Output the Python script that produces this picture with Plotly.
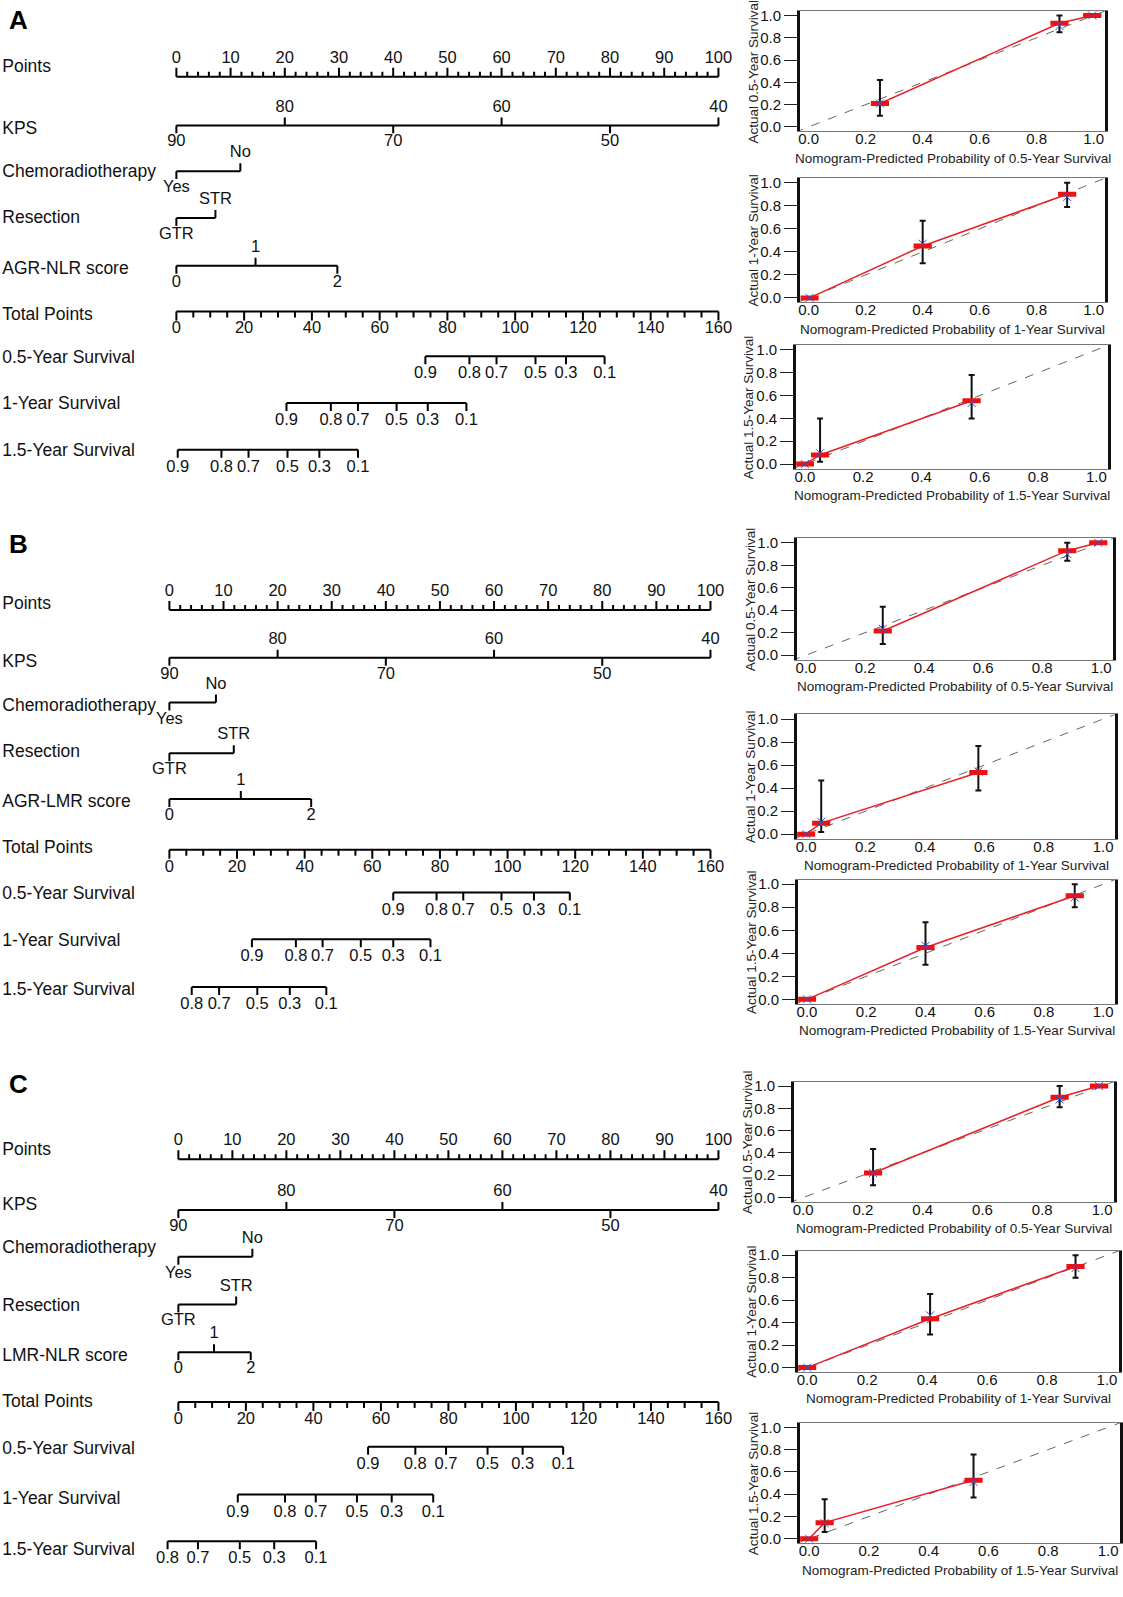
import plotly.graph_objects as go

W, H = 1123, 1597
FONT = "Liberation Sans, Arial, Helvetica, sans-serif"

# ---------------- Nomogram data ----------------
POINTS_LABELS = list(range(0, 101, 10))
KPS_VALUES = [90, 80, 70, 60, 50, 40]
KPS_POINTS = [0, 20, 40, 60, 80, 100]
TOTAL_LABELS = list(range(0, 161, 20))
TOTAL_MAX = 160
CHEMO_LEVELS = ["Yes", "No"]
RESECTION_LEVELS = ["GTR", "STR"]
SCORE_LEVELS = ["0", "1", "2"]
SURV_ROWS = ["0.5-Year Survival", "1-Year Survival", "1.5-Year Survival"]

A_SCORE_NAME = "AGR-NLR score"
A_CHEMO_PTS = [0, 11.8]
A_RESECTION_PTS = [0, 7.2]
A_SCORE_PTS = [0, 14.6, 29.7]
A_SURV_PROBS = [["0.9", "0.8", "0.7", "0.5", "0.3", "0.1"],
                ["0.9", "0.8", "0.7", "0.5", "0.3", "0.1"],
                ["0.9", "0.8", "0.7", "0.5", "0.3", "0.1"]]
A_SURV_TOTALS = [[73.5, 86.5, 94.5, 106.0, 115.0, 126.4],
                 [32.5, 45.6, 53.6, 65.0, 74.2, 85.6],
                 [0.4, 13.3, 21.3, 32.8, 42.2, 53.6]]

B_SCORE_NAME = "AGR-LMR score"
B_CHEMO_PTS = [0, 8.6]
B_RESECTION_PTS = [0, 11.9]
B_SCORE_PTS = [0, 13.2, 26.2]
B_SURV_PROBS = [["0.9", "0.8", "0.7", "0.5", "0.3", "0.1"],
                ["0.9", "0.8", "0.7", "0.5", "0.3", "0.1"],
                ["0.8", "0.7", "0.5", "0.3", "0.1"]]
B_SURV_TOTALS = [[66.2, 79.0, 86.9, 98.2, 107.8, 118.4],
                 [24.4, 37.4, 45.3, 56.6, 66.2, 77.2],
                 [6.6, 14.7, 26.0, 35.6, 46.4]]

C_SCORE_NAME = "LMR-NLR score"
C_CHEMO_PTS = [0, 13.7]
C_RESECTION_PTS = [0, 10.7]
C_SCORE_PTS = [0, 6.6, 13.4]
C_SURV_PROBS = [["0.9", "0.8", "0.7", "0.5", "0.3", "0.1"],
                ["0.9", "0.8", "0.7", "0.5", "0.3", "0.1"],
                ["0.8", "0.7", "0.5", "0.3", "0.1"]]
C_SURV_TOTALS = [[56.2, 70.2, 79.3, 91.6, 102.0, 114.0],
                 [17.6, 31.6, 40.7, 52.9, 63.2, 75.5],
                 [-3.2, 5.8, 18.2, 28.4, 40.8]]

# ---------------- Calibration data ----------------
# predicted, observed, lower CI, upper CI, bias-corrected
CAL_A05 = dict(pred=[0.25, 0.88, 0.995], obs=[0.21, 0.93, 1.0], lo=[0.10, 0.85, 1.0], hi=[0.42, 1.0, 1.0], bc=[0.21, 0.905, 1.0])
CAL_A1 = dict(pred=[0.003, 0.40, 0.907], obs=[0.0, 0.45, 0.90], lo=[0.0, 0.30, 0.79], hi=[0.0, 0.67, 1.0], bc=[0.0, 0.47, 0.875])
CAL_A15 = dict(pred=[0.0, 0.052, 0.572], obs=[0.0, 0.08, 0.555], lo=[0.0, 0.02, 0.40], hi=[0.0, 0.40, 0.78], bc=[0.0, 0.095, 0.535])
CAL_B05 = dict(pred=[0.26, 0.885, 0.99], obs=[0.215, 0.93, 1.0], lo=[0.10, 0.84, 1.0], hi=[0.43, 1.0, 1.0], bc=[0.235, 0.90, 1.0])
CAL_B1 = dict(pred=[0.0, 0.051, 0.58], obs=[0.0, 0.096, 0.535], lo=[0.0, 0.02, 0.38], hi=[0.0, 0.466, 0.765], bc=[0.0, 0.108, 0.545])
CAL_B15 = dict(pred=[0.0, 0.40, 0.904], obs=[0.0, 0.45, 0.90], lo=[0.0, 0.30, 0.80], hi=[0.0, 0.67, 1.0], bc=[0.0, 0.465, 0.885])
CAL_C05 = dict(pred=[0.234, 0.858, 0.99], obs=[0.22, 0.90, 1.0], lo=[0.11, 0.81, 1.0], hi=[0.435, 1.0, 1.0], bc=[0.22, 0.88, 1.0])
CAL_C1 = dict(pred=[0.0, 0.41, 0.895], obs=[0.0, 0.435, 0.90], lo=[0.0, 0.295, 0.80], hi=[0.0, 0.655, 1.0], bc=[0.0, 0.465, 0.885])
CAL_C15 = dict(pred=[0.0, 0.052, 0.55], obs=[0.0, 0.145, 0.525], lo=[0.0, 0.06, 0.37], hi=[0.0, 0.355, 0.757], bc=[0.0, 0.14, 0.51])
CAL_TICKS = [0.0, 0.2, 0.4, 0.6, 0.8, 1.0]
HORIZONS = ["0.5", "1", "1.5"]

# ---------------- Layout geometry (pixels) ----------------
PANELS = [
    dict(letter="A", score=A_SCORE_NAME, chemo=A_CHEMO_PTS, res=A_RESECTION_PTS, sc=A_SCORE_PTS,
         probs=A_SURV_PROBS, totals=A_SURV_TOTALS, x0=175, x100=719, letter_y=16, band=(0, 505),
         rows=[73, 122, 168, 215, 263, 309, 354, 401, 448],
         labels_y=[64, 126, 169, 216, 267, 313, 356, 403, 450],
         cal=[(CAL_A05, (801, 1107, 7, 128)), (CAL_A1, (801, 1107, 175, 300)), (CAL_A15, (797, 1110, 343, 467))]),
    dict(letter="B", score=B_SCORE_NAME, chemo=B_CHEMO_PTS, res=B_RESECTION_PTS, sc=B_SCORE_PTS,
         probs=B_SURV_PROBS, totals=B_SURV_TOTALS, x0=168, x100=711, letter_y=543, band=(505, 1045),
         rows=[609, 657, 702, 753, 799, 850, 893, 940, 988],
         labels_y=[604, 662, 706, 752, 803, 849, 895, 942, 992],
         cal=[(CAL_B05, (798, 1115, 537, 659)), (CAL_B1, (798, 1117, 714, 839)), (CAL_B15, (799, 1117, 880, 1005))]),
    dict(letter="C", score=C_SCORE_NAME, chemo=C_CHEMO_PTS, res=C_RESECTION_PTS, sc=C_SCORE_PTS,
         probs=C_SURV_PROBS, totals=C_SURV_TOTALS, x0=177, x100=719, letter_y=1085, band=(1045, 1597),
         rows=[1161, 1212, 1259, 1307, 1355, 1405, 1450, 1498, 1545],
         labels_y=[1152, 1208, 1251, 1309, 1359, 1406, 1453, 1503, 1554],
         cal=[(CAL_C05, (795, 1116, 1083, 1204)), (CAL_C1, (799, 1121, 1253, 1375)), (CAL_C15, (801, 1122, 1426, 1547))]),
]

ABOVE, BELOW = -18, 17
NOMO_RIGHT_PX = 745

fig = go.Figure()
layout = dict(width=W, height=H, margin=dict(l=0, r=0, t=0, b=0), autosize=False,
              paper_bgcolor="white", plot_bgcolor="rgba(0,0,0,0)", showlegend=False,
              font=dict(family=FONT, color="#111"), annotations=[])


def ax_keys(i):
    return ("x" if i == 1 else f"x{i}", "y" if i == 1 else f"y{i}",
            "xaxis" if i == 1 else f"xaxis{i}", "yaxis" if i == 1 else f"yaxis{i}")


idx = 0
for P in PANELS:
    idx += 1
    xr, yr, xk, yk = ax_keys(idx)
    s = (P["x100"] - P["x0"]) / 100.0
    top_px, bot_px = P["band"]
    layout[xk] = dict(domain=[0, NOMO_RIGHT_PX / W], range=[-P["x0"] / s, (NOMO_RIGHT_PX - P["x0"]) / s],
                      visible=False, fixedrange=True, anchor=yr)
    layout[yk] = dict(domain=[1 - bot_px / H, 1 - top_px / H], range=[bot_px, top_px],
                      visible=False, fixedrange=True, anchor=xr)

    sx, sy = [], []
    tx, ty, tt = [], [], []

    def seg(xa, ya, xb, yb):
        sx.extend([xa, xb, None])
        sy.extend([ya, yb, None])

    rows = P["rows"]
    # Points
    y = rows[0]
    seg(0, y, 100, y)
    for t in range(0, 101, 2):
        L = 9 if t % 10 == 0 else 5
        seg(t, y, t, y - L)
    for t in POINTS_LABELS:
        tx.append(t); ty.append(y + ABOVE); tt.append(str(t))
    # KPS
    y = rows[1]
    seg(min(KPS_POINTS), y, max(KPS_POINTS), y)
    for i, (v, p) in enumerate(zip(KPS_VALUES, KPS_POINTS)):
        up = i % 2 == 1
        seg(p, y, p, y - 8 if up else y + 8)
        tx.append(p); ty.append(y + (ABOVE if up else BELOW)); tt.append(str(v))
    # categorical rows
    for r, levels, pts, ups in [(2, CHEMO_LEVELS, P["chemo"], [False, True]),
                                (3, RESECTION_LEVELS, P["res"], [False, True]),
                                (4, SCORE_LEVELS, P["sc"], [False, True, False])]:
        y = rows[r]
        seg(min(pts), y, max(pts), y)
        for lev, p, up in zip(levels, pts, ups):
            seg(p, y, p, y - 8 if up else y + 8)
            tx.append(p); ty.append(y + (ABOVE if up else BELOW)); tt.append(lev)
    # Total points
    y = rows[5]
    seg(0, y, 100, y)
    for t in range(0, TOTAL_MAX + 1, 5):
        p = t * 100.0 / TOTAL_MAX
        L = 9 if t % 20 == 0 else 6
        seg(p, y, p, y + L)
    for t in TOTAL_LABELS:
        tx.append(t * 100.0 / TOTAL_MAX); ty.append(y + BELOW + 1); tt.append(str(t))
    # Survival rows
    for k in range(3):
        y = rows[6 + k]
        ps = [t * 100.0 / TOTAL_MAX for t in P["totals"][k]]
        seg(min(ps), y, max(ps), y)
        for lab, p in zip(P["probs"][k], ps):
            seg(p, y, p, y + 8)
            tx.append(p); ty.append(y + BELOW + 1); tt.append(lab)

    fig.add_trace(go.Scatter(x=sx, y=sy, mode="lines", line=dict(color="black", width=2),
                             xaxis=xr, yaxis=yr, hoverinfo="skip", cliponaxis=False))
    fig.add_trace(go.Scatter(x=tx, y=ty, text=tt, mode="text", textposition="middle center",
                             textfont=dict(family=FONT, size=16.5, color="#111"),
                             xaxis=xr, yaxis=yr, hoverinfo="skip", cliponaxis=False))
    row_names = ["Points", "KPS", "Chemoradiotherapy", "Resection", P["score"], "Total Points"] + SURV_ROWS
    fig.add_trace(go.Scatter(x=[-P["x0"] / s + 0.05] * len(row_names), y=P["labels_y"], text=row_names,
                             mode="text", textposition="middle right",
                             textfont=dict(family=FONT, size=17.5, color="#111"),
                             xaxis=xr, yaxis=yr, hoverinfo="skip", cliponaxis=False))
    layout["annotations"].append(dict(text="<b>" + P["letter"] + "</b>", xref="paper", yref="paper",
                                      x=5 / W, y=1 - P["letter_y"] / H, xanchor="left", yanchor="middle",
                                      showarrow=False, font=dict(family=FONT, size=26, color="black")))

# ---------------- Calibration plots ----------------
for P in PANELS:
    for h, (cal, box) in zip(HORIZONS, P["cal"]):
        idx += 1
        xr, yr, xk, yk = ax_keys(idx)
        l, r, t, b = box
        layout[xk] = dict(domain=[l / W, r / W], range=[-0.03, 1.04], anchor=yr,
                          tickvals=CAL_TICKS, ticktext=[f"{v:.1f}" for v in CAL_TICKS],
                          ticks="", ticklabelstandoff=-6,
                          showline=True, linecolor="#777", linewidth=1, mirror=True,
                          showgrid=False, zeroline=False, fixedrange=True,
                          tickfont=dict(family=FONT, size=15, color="#111"))
        layout[yk] = dict(domain=[1 - b / H, 1 - t / H], range=[-0.04, 1.04], anchor=xr,
                          tickvals=CAL_TICKS, ticktext=[f"{v:.1f}" for v in CAL_TICKS],
                          ticks="outside", ticklen=13, tickcolor="#222", tickwidth=1,
                          showline=True, linecolor="#111", linewidth=3, mirror=True,
                          showgrid=False, zeroline=False, fixedrange=True,
                          tickfont=dict(family=FONT, size=15, color="#111"))
        layout["annotations"].append(dict(
            text=f"Nomogram-Predicted Probability of {h}-Year Survival", xref="paper", yref="paper",
            x=(l + r) / 2 / W, y=1 - (b + 27) / H, xanchor="center", yanchor="middle", showarrow=False,
            font=dict(family=FONT, size=13.5, color="#222")))
        layout["annotations"].append(dict(
            text=f"Actual {h}-Year Survival", xref="paper", yref="paper", textangle=-90,
            x=(l - 47) / W, y=1 - (t + b) / 2 / H, xanchor="center", yanchor="middle", showarrow=False,
            font=dict(family=FONT, size=13.5, color="#222")))
        # ideal diagonal
        fig.add_trace(go.Scatter(x=[-0.05, 1.05], y=[-0.05, 1.05], mode="lines",
                                 line=dict(color="#666", width=1, dash="dash"),
                                 xaxis=xr, yaxis=yr, hoverinfo="skip"))
        # calibration line
        fig.add_trace(go.Scatter(x=cal["pred"], y=cal["obs"], mode="lines",
                                 line=dict(color="#e8202a", width=1.5),
                                 xaxis=xr, yaxis=yr, hoverinfo="skip"))
        # error bars
        ex, ey, eu, ed = [], [], [], []
        for p, o, lo, hi in zip(cal["pred"], cal["obs"], cal["lo"], cal["hi"]):
            if hi - lo > 0.001:
                ex.append(p); ey.append(o); eu.append(hi - o); ed.append(o - lo)
        fig.add_trace(go.Scatter(x=ex, y=ey, mode="markers", marker=dict(size=1, color="rgba(0,0,0,0)"),
                                 error_y=dict(type="data", symmetric=False, array=eu, arrayminus=ed,
                                              color="#111", thickness=2, width=3),
                                 xaxis=xr, yaxis=yr, hoverinfo="skip"))
        # observed points (red bars)
        fig.add_trace(go.Scatter(x=cal["pred"], y=cal["obs"], mode="markers",
                                 marker=dict(symbol="line-ew-open", size=13, color="#ee1111",
                                             line=dict(color="#ee1111", width=5)),
                                 xaxis=xr, yaxis=yr, hoverinfo="skip"))
        # bias-corrected (blue x)
        fig.add_trace(go.Scatter(x=cal["pred"], y=cal["bc"], mode="markers",
                                 marker=dict(symbol="x-thin-open", size=8, color="#3050d0",
                                             line=dict(color="#3050d0", width=1)),
                                 xaxis=xr, yaxis=yr, hoverinfo="skip"))

fig.update_layout(**layout)
fig.write_html("out.html", config={"displayModeBar": False},
               post_script="document.body.style.margin='0px';")
